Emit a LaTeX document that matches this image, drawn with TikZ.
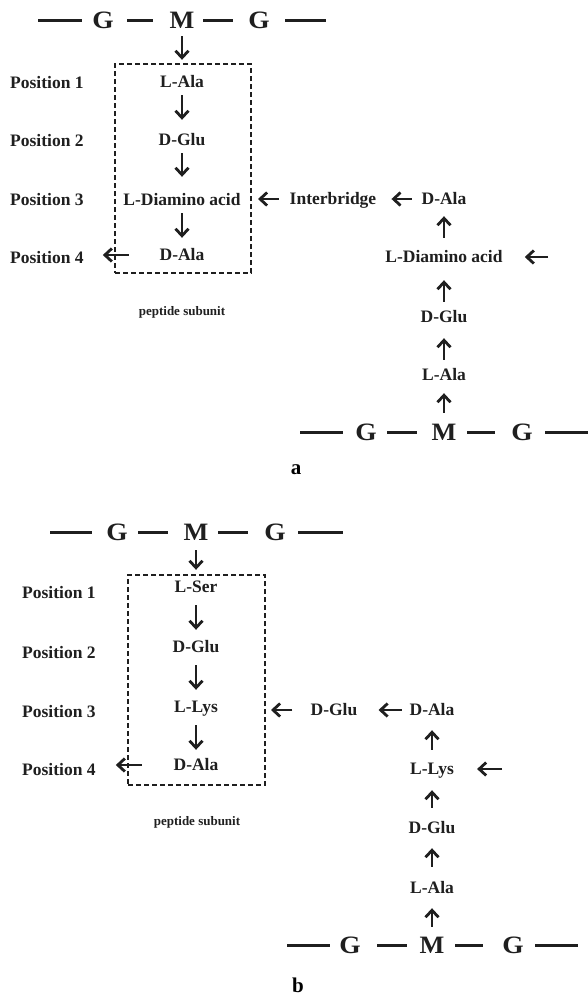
\documentclass[tikz,border=0pt]{standalone}
\usepackage{fontspec}
\setmainfont{Liberation Serif}
\usetikzlibrary{arrows.meta}
\begin{document}
\begin{tikzpicture}[x=1pt,y=-1pt,
 lab/.style={font=\fontsize{17.5}{17.5}\selectfont\bfseries, inner sep=0pt, text height=11pt, text depth=0pt, text=black!88},
 poslab/.style={lab, anchor=west},
 chain/.style={font=\fontsize{25}{25}\selectfont\bfseries, inner sep=0pt, text height=16pt, text depth=0pt, text=black!88},
 small/.style={font=\fontsize{13}{13}\selectfont\bfseries, inner sep=0pt, text=black!88},
 panel/.style={font=\fontsize{21}{21}\selectfont\bfseries, inner sep=0pt},
 arr/.style={-{Straight Barb[length=7pt,width=13pt,line width=2.8pt]}, line width=2.8pt, black!88},
 bond/.style={line width=3pt, black!88},
 dbox/.style={draw=black!88, line width=2pt, dash pattern=on 5pt off 3pt, inner sep=0pt},
]
\useasboundingbox (0,0) rectangle (588,996);

% ================= panel a =================
\node[chain] (ag1) at (103,20) {\scalebox{1.1}[1]{G}};
\node[chain] (am1) at (182,20) {\scalebox{1.05}[1]{M}};
\node[chain] (ag2) at (259,20) {\scalebox{1.1}[1]{G}};
\coordinate (al) at (38,20);
\coordinate (ar) at (326,20);
\draw[bond, shorten >=21pt] (al) -- (ag1.center);
\draw[bond, shorten <=24pt, shorten >=29pt] (ag1.center) -- (am1.center);
\draw[bond, shorten <=21pt, shorten >=26pt] (am1.center) -- (ag2.center);
\draw[bond, shorten <=26pt] (ag2.center) -- (ar);

\node[dbox, minimum width=136pt, minimum height=209pt] (boxA) at (183,168.5) {};
\node[lab] (aala) at (182,82) {L-Ala};
\node[lab] (aglu) at (182,140) {D-Glu};
\node[lab] (adia) at (182,200) {L-Diamino acid};
\node[lab] (adal) at (182,255) {D-Ala};
\node[poslab] (apos1) at (10,83) {Position 1};
\node[poslab] (apos2) at (10,141) {Position 2};
\node[poslab] (apos3) at (10,200) {Position 3};
\node[poslab] (apos4) at (10,258) {Position 4};
\node[small] (apep) at (182,312) {peptide subunit};

\draw[arr, shorten <=8pt, shorten >=16.5pt] (am1.south) -- (aala.north);
\draw[arr, shorten <=7.5pt, shorten >=14.5pt] (aala.south) -- (aglu.north);
\draw[arr, shorten <=7.5pt, shorten >=17.5pt] (aglu.south) -- (adia.north);
\draw[arr, shorten <=7.5pt, shorten >=11.5pt] (adia.south) -- (adal.north);
\draw[arr, shorten <=30.5pt, shorten >=19pt] (adal.west) -- (adal.west -| apos4.east);

\node[lab] (ib) at (333,199) {Interbridge};
\node[lab] (rdal) at (444,199) {D-Ala};
\node[lab] (rdia) at (444,257) {L-Diamino acid};
\node[lab] (rglu) at (444,317) {D-Glu};
\node[lab] (rala) at (444,375) {L-Ala};
\coordinate (rin) at (548,257);

\node[chain] (bg1) at (366,432) {\scalebox{1.1}[1]{G}};
\node[chain] (bm1) at (444,432) {\scalebox{1.05}[1]{M}};
\node[chain] (bg2) at (522,432) {\scalebox{1.1}[1]{G}};
\coordinate (bl) at (300,432);
\coordinate (br) at (588,432);
\draw[bond, shorten >=23pt] (bl) -- (bg1.center);
\draw[bond, shorten <=21pt, shorten >=27pt] (bg1.center) -- (bm1.center);
\draw[bond, shorten <=23pt, shorten >=27pt] (bm1.center) -- (bg2.center);
\draw[bond, shorten <=23pt] (bg2.center) -- (br);

\draw[arr, shorten <=11pt, shorten >=12.5pt] (bm1.north) -- (rala.south);
\draw[arr, shorten <=9.5pt, shorten >=15.5pt] (rala.north) -- (rglu.south);
\draw[arr, shorten <=9.5pt, shorten >=17.5pt] (rglu.north) -- (rdia.south);
\draw[arr, shorten <=13.5pt, shorten >=11.5pt] (rdia.north) -- (rdal.south);
\draw[arr, shorten <=9.5pt, shorten >=15pt] (rdal.west) -- (ib.east);
\draw[arr, shorten <=11pt, shorten >=6pt] (ib.west) -- (ib.west -| boxA.east);
\draw[arr, shorten >=22pt] (rin) -- (rdia.east);

\node[panel] (alab) at (296,470) {a};

% ================= panel b =================
\node[chain] (cg1) at (117,532) {\scalebox{1.1}[1]{G}};
\node[chain] (cm1) at (196,532) {\scalebox{1.05}[1]{M}};
\node[chain] (cg2) at (275,532) {\scalebox{1.1}[1]{G}};
\coordinate (cl) at (50,532);
\coordinate (cr) at (343,532);
\draw[bond, shorten >=25pt] (cl) -- (cg1.center);
\draw[bond, shorten <=21pt, shorten >=28pt] (cg1.center) -- (cm1.center);
\draw[bond, shorten <=22pt, shorten >=27pt] (cm1.center) -- (cg2.center);
\draw[bond, shorten <=23pt] (cg2.center) -- (cr);

\node[dbox, minimum width=137pt, minimum height=210pt] (boxB) at (196.5,680) {};
\node[lab] (bser) at (196,587) {L-Ser};
\node[lab] (bglu) at (196,647) {D-Glu};
\node[lab] (blys) at (196,707) {L-Lys};
\node[lab] (bdal) at (196,765) {D-Ala};
\node[poslab] (bpos1) at (22,593) {Position 1};
\node[poslab] (bpos2) at (22,653) {Position 2};
\node[poslab] (bpos3) at (22,712) {Position 3};
\node[poslab] (bpos4) at (22,770) {Position 4};
\node[small] (bpep) at (197,822) {peptide subunit};

\draw[arr, shorten <=10pt, shorten >=11.5pt] (cm1.south) -- (bser.north);
\draw[arr, shorten <=12.5pt, shorten >=11.5pt] (bser.south) -- (bglu.north);
\draw[arr, shorten <=12.5pt, shorten >=11.5pt] (bglu.south) -- (blys.north);
\draw[arr, shorten <=12.5pt, shorten >=9.5pt] (blys.south) -- (bdal.north);
\draw[arr, shorten <=31.5pt, shorten >=20pt] (bdal.west) -- (bdal.west -| bpos4.east);

\node[lab] (bglu2) at (334,710) {D-Glu};
\node[lab] (rbdal) at (432,710) {D-Ala};
\node[lab] (rblys) at (432,769) {L-Lys};
\node[lab] (rbglu) at (432,828) {D-Glu};
\node[lab] (rbala) at (432,888) {L-Ala};
\coordinate (rbin) at (502,769);

\node[chain] (dg1) at (350,945) {\scalebox{1.1}[1]{G}};
\node[chain] (dm1) at (432,945) {\scalebox{1.05}[1]{M}};
\node[chain] (dg2) at (513,945) {\scalebox{1.1}[1]{G}};
\coordinate (dl) at (287,945);
\coordinate (dr) at (578,945);
\draw[bond, shorten >=20pt] (dl) -- (dg1.center);
\draw[bond, shorten <=27pt, shorten >=25pt] (dg1.center) -- (dm1.center);
\draw[bond, shorten <=23pt, shorten >=30pt] (dm1.center) -- (dg2.center);
\draw[bond, shorten <=22pt] (dg2.center) -- (dr);

\draw[arr, shorten <=10pt, shorten >=14.5pt] (dm1.north) -- (rbala.south);
\draw[arr, shorten <=15.5pt, shorten >=14.5pt] (rbala.north) -- (rbglu.south);
\draw[arr, shorten <=14.5pt, shorten >=15.5pt] (rbglu.north) -- (rblys.south);
\draw[arr, shorten <=13.5pt, shorten >=14.5pt] (rblys.north) -- (rbdal.south);
\draw[arr, shorten <=7.5pt, shorten >=21pt] (rbdal.west) -- (bglu2.east);
\draw[arr, shorten <=18pt, shorten >=5pt] (bglu2.west) -- (bglu2.west -| boxB.east);
\draw[arr, shorten >=23pt] (rbin) -- (rblys.east);

\node[panel] (blab) at (298,985) {b};
\end{tikzpicture}
\end{document}
